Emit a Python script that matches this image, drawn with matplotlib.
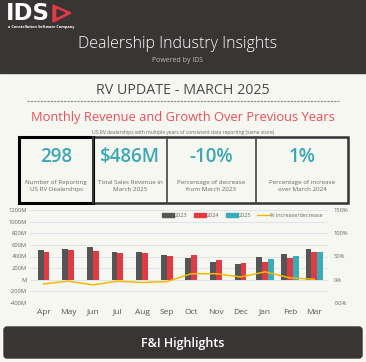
import matplotlib
matplotlib.use('Agg')
import matplotlib.pyplot as plt
import numpy as np
from matplotlib.patches import Rectangle, FancyBboxPatch, Polygon
from matplotlib.lines import Line2D

plt.rcParams['font.family'] = ['Open Sans', 'DejaVu Sans']

# data (revenue in $M, growth in %)
months = ['Apr', 'May', 'Jun', 'Jul', 'Aug', 'Sep', 'Oct', 'Nov', 'Dec', 'Jan', 'Feb', 'Mar']
rev_2023 = [514, 537, 560, 470, 485, 423, 372, 303, 263, 383, 440, 537]
rev_2024 = [475, 520, 497, 457, 457, 411, 428, 337, 280, 297, 382, 481]
rev_2025 = [np.nan] * 9 + [354, 406, 486]
pct_change = [-9, -3, -11, -3, -6, -4, 13, 13, 6, 17, 4, 1]

kpi_values = ['298', '$486M', '-10%', '1%']
kpi_labels = ['Number of Reporting\nUS RV Dealerships',
              'Total Sales Revenue in\nMarch 2025',
              'Percentage of decrease\nfrom March 2023',
              'Percentage of increase\nover March 2024']
left_ticks = [-400, -200, 0, 200, 400, 600, 800, 1000, 1200]
left_labels = ['-400M', '-200M', 'M', '200M', '400M', '600M', '800M', '1000M', '1200M']
right_ticks = [-50, 0, 50, 100, 150]
right_labels = ['-50%', '0%', '50%', '100%', '150%']

BG = '#f7f7f2'
DARK = '#3a3535'
C23, C24, C25, CLINE = '#555555', '#e03a45', '#3aacb8', '#f5b800'
TEAL = '#3aa8b3'

W, H = 366, 362
fig = plt.figure(figsize=(W / 100, H / 100), dpi=100, facecolor=BG)

# page canvas in pixel coords
bg = fig.add_axes([0, 0, 1, 1])
bg.set_xlim(0, W)
bg.set_ylim(H, 0)
bg.axis('off')

# header
bg.add_patch(Rectangle((0, 0), W, 73, color=DARK))
bg.text(6, 14, 'IDS', color='white', fontsize=16.5, fontweight='heavy', va='center', ha='left',
        family=['DejaVu Sans'])
bg.add_patch(Polygon([[53, 5], [71, 13], [53, 22]], closed=True, color='#e03a45'))
bg.add_patch(Polygon([[57, 9.5], [65, 13], [57, 17]], closed=True, color=DARK))
bg.text(8, 27, 'a Constellation Software Company', color='white', fontsize=2.8,
        fontweight='bold', va='center')
bg.text(178, 44, 'Dealership Industry Insights', color='white', fontsize=11.5,
        ha='center', va='center', fontweight='light')
bg.text(178, 61, 'Powered by IDS', color='#bbbbbb', fontsize=5, ha='center', va='center')

# section titles
bg.text(183, 90, 'RV UPDATE - MARCH 2025', color='#4a4a4a', fontsize=10.3,
        ha='center', va='center')
bg.plot([27, 339], [100.5, 100.5], color='#888888', lw=0.8, ls=(0, (2, 1)))
bg.text(183, 117, 'Monthly Revenue and Growth Over Previous Years', color='#e8505b',
        fontsize=9.3, ha='center', va='center', fontweight='medium')
bg.text(183, 132.5, 'US RV dealerships with multiple years of consistent data reporting (same store)',
        color='#666666', fontsize=3.6, ha='center', va='center')

# KPI cards
edges = [19, 93, 167, 256, 348]
top, bot = 137, 203
bg.add_patch(Rectangle((edges[0], top), edges[-1] - edges[0], bot - top,
                       fill=False, ec='#333333', lw=1.8))
for i in range(1, 4):
    bg.plot([edges[i], edges[i]], [top, bot], color='#444444', lw=1.2)
bg.add_patch(Rectangle((edges[0], top), edges[1] - edges[0], bot - top,
                       fill=False, ec='black', lw=2.2))
for i in range(4):
    cx = (edges[i] + edges[i + 1]) / 2
    bg.text(cx, 157, kpi_values[i], color=TEAL, fontsize=13.5, ha='center', va='center',
            fontweight='semibold')
    bg.text(cx, 186, kpi_labels[i], color='#666666', fontsize=4.5, ha='center',
            va='center', linespacing=1.3)

# footer button
bg.add_patch(FancyBboxPatch((4, 327), 358, 31, boxstyle='round,pad=0,rounding_size=3',
                            color=DARK))
bg.text(183, 343, 'F&I Highlights', color='white', fontsize=9, fontweight='semibold',
        ha='center', va='center')

# chart
ax = fig.add_axes([30 / W, 1 - 303 / H, 298 / W, 93 / H])
ax.set_facecolor(BG)
x = np.arange(len(months))
bw = 0.24
has25 = ~np.isnan(np.array(rev_2025, dtype=float))
off23 = np.where(has25, -bw, -bw / 2)
off24 = np.where(has25, 0, bw / 2)
ax.bar(x + off23, rev_2023, bw, color=C23, label='2023', zorder=3)
ax.bar(x + off24, rev_2024, bw, color=C24, label='2024', zorder=3)
ax.bar(x + bw, rev_2025, bw, color=C25, label='2025', zorder=3)
ax.set_ylim(-400, 1200)
ax.set_xlim(-0.55, len(months) - 0.45)
ax.set_yticks(left_ticks)
ax.set_yticklabels(left_labels)
ax.set_xticks(x)
ax.set_xticklabels(months)
ax.grid(axis='y', color='#dde3ea', lw=0.7, zorder=0)
for s in ax.spines.values():
    s.set_visible(False)
ax.tick_params(axis='y', length=0, labelsize=4.2, labelcolor='#666666', pad=2)
ax.tick_params(axis='x', length=0, labelsize=6, labelcolor='#555555', pad=4)

ax2 = ax.twinx()
ax2.plot(x, pct_change, color=CLINE, lw=1.1, zorder=4)
ax2.set_ylim(-50, 150)
ax2.set_yticks(right_ticks)
ax2.set_yticklabels(right_labels)
for s in ax2.spines.values():
    s.set_visible(False)
ax2.tick_params(axis='y', length=0, labelsize=4.2, labelcolor='#666666', pad=4)

handles = [Rectangle((0, 0), 1, 1, color=C23), Rectangle((0, 0), 1, 1, color=C24),
           Rectangle((0, 0), 1, 1, color=C25), Line2D([], [], color=CLINE, lw=1)]
leg = ax.legend(handles, ['2023', '2024', '2025', '% increase/decrease'], ncol=4,
                loc='upper right', bbox_to_anchor=(1.0, 1.02), frameon=False,
                fontsize=4, handlelength=2.2, handleheight=0.6, columnspacing=1.2,
                handletextpad=0.1, labelcolor='#666666')

fig.savefig('out.png', dpi=100, facecolor=BG)
